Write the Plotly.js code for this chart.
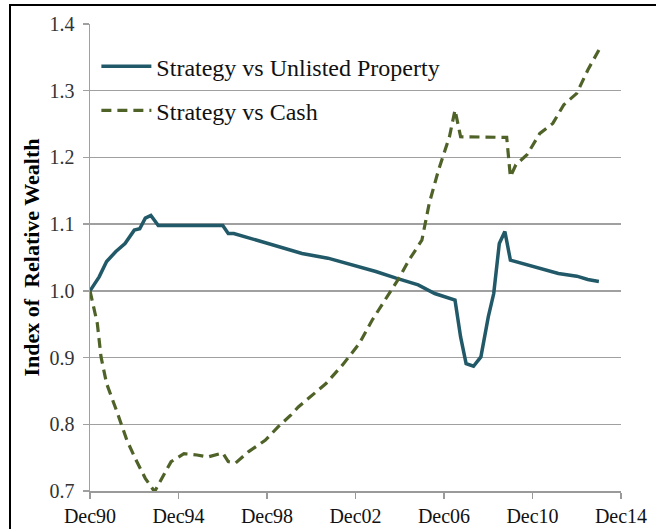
<!DOCTYPE html>
<html>
<head>
<meta charset="utf-8">
<script src="https://cdn.plot.ly/plotly-3.0.1.min.js"></script>
<style>
  html, body { margin: 0; padding: 0; background: #fff; }
  #frame { position: absolute; left: 9px; top: 4px; width: 700px; height: 600px; border: 2px solid #000; box-sizing: border-box; }
  #chart { position: absolute; left: 0; top: 0; width: 656px; height: 529px; }
</style>
</head>
<body>
<div id="frame"></div>
<div id="chart"></div>
<script>
// Strategy vs Unlisted Property
const propDates = ["1990-12","1991-05","1991-09","1992-02","1992-07","1992-12","1993-03","1993-06","1993-09","1994-01",
  "1996-12","1997-03","1997-06","1997-12","1998-09","2000-07","2001-09","2003-11","2004-10","2005-10","2006-07",
  "2007-06","2007-09","2007-12","2008-04","2008-08","2008-12","2009-03","2009-06","2009-09","2009-12",
  "2010-09","2011-07","2012-02","2012-12","2013-06","2013-12"];
const propValues = [1.000,1.021,1.044,1.059,1.071,1.091,1.093,1.109,1.113,1.098,
  1.098,1.086,1.086,1.081,1.074,1.056,1.049,1.029,1.019,1.009,0.996,
  0.986,0.931,0.891,0.887,0.901,0.961,0.996,1.071,1.089,1.046,
  1.039,1.031,1.026,1.022,1.017,1.014];

// Strategy vs Cash
const cashDates = ["1990-12","1991-04","1991-06","1991-09","1992-03","1992-08","1993-01","1993-06","1993-11","1994-04",
  "1994-08","1995-03","1995-10","1996-04","1996-12","1997-03","1997-07","1998-02","1998-11","1999-06","2000-01",
  "2000-05","2001-08","2002-05","2003-02","2003-09","2004-04","2004-12","2005-05","2005-12","2006-04","2006-09",
  "2007-03","2007-06","2007-09","2009-10","2009-12","2010-03","2010-09","2011-04","2011-11","2012-05","2012-12",
  "2013-06","2013-12"];
const cashValues = [1.000,0.951,0.901,0.861,0.816,0.776,0.746,0.719,0.699,0.724,
  0.744,0.756,0.754,0.751,0.757,0.744,0.742,0.759,0.776,0.796,0.814,
  0.826,0.861,0.889,0.921,0.956,0.986,1.021,1.046,1.076,1.131,1.181,
  1.231,1.271,1.231,1.230,1.171,1.189,1.204,1.236,1.251,1.279,1.296,
  1.331,1.361];

const tickDates = ["1990-12-01","1994-12-01","1998-12-01","2002-12-01","2006-12-01","2010-12-01","2014-12-01"];
const tickLabels = ["Dec90","Dec94","Dec98","Dec02","Dec06","Dec10","Dec14"];
const yTicks = [0.7,0.8,0.9,1.0,1.1,1.2,1.3,1.4];
const yTickLabels = ["0.7","0.8","0.9","1.0","1.1","1.2","1.3","1.4"];

const serif = "'Liberation Serif', 'DejaVu Serif', serif";

const traces = [
  { x: propDates, y: propValues, type: "scatter", mode: "lines", name: "Strategy vs Unlisted Property",
    legendgroup: "a", line: { color: "#215968", width: 3.5 } },
  { x: cashDates, y: cashValues, type: "scatter", mode: "lines", name: "Strategy vs Cash",
    legendgroup: "b", line: { color: "#4f6228", width: 3.2, dash: "10px,6px" } }
];

const layout = {
  width: 656, height: 529,
  margin: { l: 90, r: 35, t: 24, b: 38 },
  paper_bgcolor: "rgba(0,0,0,0)", plot_bgcolor: "rgba(0,0,0,0)",
  font: { family: serif, color: "#222" },
  showlegend: true,
  legend: { x: 0.012, y: 0.957, xanchor: "left", yanchor: "top", bgcolor: "rgba(0,0,0,0)",
    font: { family: serif, size: 24, color: "#111" }, traceorder: "grouped", tracegroupgap: 10, itemwidth: 50 },
  xaxis: {
    type: "date", range: ["1990-12-01", "2014-12-01"],
    tickvals: tickDates, ticktext: tickLabels,
    showgrid: false, zeroline: false,
    showline: true, linecolor: "#9a9a9a", linewidth: 1.5,
    ticks: "outside", ticklen: 6, tickcolor: "#9a9a9a", tickwidth: 1.5,
    tickfont: { family: serif, size: 20, color: "#111" }
  },
  yaxis: {
    range: [0.7, 1.4], tickvals: yTicks, ticktext: yTickLabels,
    showgrid: true, gridcolor: "#a0a0a0", gridwidth: 1.5, zeroline: false,
    showline: true, linecolor: "#a0a0a0", linewidth: 1.5,
    ticks: "outside", ticklen: 6, tickcolor: "#a0a0a0", tickwidth: 1.5,
    ticklabelstandoff: 4,
    tickfont: { family: serif, size: 20, color: "#333" },
    title: { text: "<b>Index of  Relative Wealth</b>", font: { family: serif, size: 22, color: "#000" }, standoff: 4 }
  }
};

Plotly.newPlot("chart", traces, layout, { displayModeBar: false, staticPlot: true });
</script>
</body>
</html>
